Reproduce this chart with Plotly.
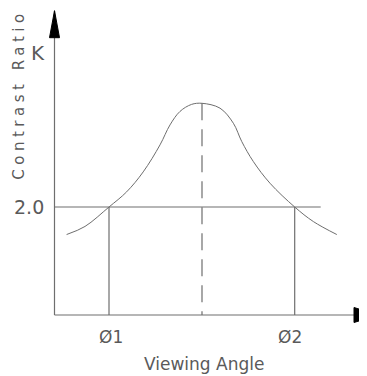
"""Contrast ratio vs viewing angle sketch (CAD-style line drawing)."""

import plotly.graph_objects as go

# --- data -----------------------------------------------------------------
# viewing angle (deg, 0 = normal) and the contrast ratio
angle = [-67.7, -58.5, -46.5, -37.7, -29.4, -21.0, -16.0, -11.0, -5.2, 0.0,
         9.0, 15.7, 19.9, 25.7, 34.0, 46.35, 55.7, 67.4]
contrast = [1.49, 1.64, 2.00, 2.28, 2.65, 3.15, 3.52, 3.77, 3.90, 3.92,
            3.83, 3.55, 3.21, 2.84, 2.44, 2.00, 1.73, 1.49]

threshold = 2.0            # K = 2.0 line
phi1, phi2 = -46.5, 46.35  # angles where the curve crosses K
peak_angle, peak_ratio = 0.0, 3.92

axis_x0 = -73.75         # where the vertical axis sits
axis_x_tip = 88.0        # arrow tip of the horizontal axis
axis_y_tip = 5.635       # arrow tip of the vertical axis
threshold_end = 59.35    # right end of the K line

# --- style ----------------------------------------------------------------
# the page keeps its 8px body margin, so the figure only gets 351 px across
W, H = 351, 368
X_RANGE = [-97.0, 78.5]
Y_RANGE = [-1.1296, 5.685]
PX_PER_X = W / (X_RANGE[1] - X_RANGE[0])
PX_PER_Y = H / (Y_RANGE[1] - Y_RANGE[0])

LINE = "#6e6e6e"
INK = "#5a5a5a"
FONT = "DejaVu Sans"

fig = go.Figure()


def seg(xs, ys, dash="solid"):
    fig.add_scatter(x=xs, y=ys, mode="lines", line=dict(color=LINE, width=1.2, dash=dash),
                    hoverinfo="skip", showlegend=False)


# axes
seg([axis_x0, axis_x0], [0, axis_y_tip])
seg([axis_x0, axis_x_tip], [0, 0])

# arrow heads, sized in pixels and turned into data units
up_len, up_half = 27 / PX_PER_Y, 5 / PX_PER_X
fig.add_scatter(
    x=[axis_x0, axis_x0 - up_half, axis_x0 + up_half, axis_x0],
    y=[axis_y_tip, axis_y_tip - up_len, axis_y_tip - up_len, axis_y_tip],
    mode="lines", fill="toself", fillcolor="black", line=dict(color="black", width=1),
    hoverinfo="skip", showlegend=False,
)
rt_len, rt_half = 24 / PX_PER_X, 7.5 / PX_PER_Y
fig.add_scatter(
    x=[axis_x_tip, axis_x_tip - rt_len, axis_x_tip - rt_len, axis_x_tip],
    y=[0, rt_half, -rt_half, 0],
    mode="lines", fill="toself", fillcolor="black", line=dict(color="black", width=1),
    hoverinfo="skip", showlegend=False,
)

# K line and the two drop lines
seg([axis_x0, threshold_end], [threshold, threshold])
seg([phi1, phi1], [0, threshold])
seg([phi2, phi2], [0, threshold])
seg([peak_angle, peak_angle], [peak_ratio, 0], dash="17px,9px")

# the curve
fig.add_scatter(x=angle, y=contrast, mode="lines",
                line=dict(color=LINE, width=1, shape="spline", smoothing=1),
                hoverinfo="skip", showlegend=False)


def label(text, x, y, size, angle_deg=0):
    fig.add_annotation(x=x, y=y, xref="x", yref="y", text=text, showarrow=False,
                       textangle=angle_deg, xanchor="center", yanchor="middle",
                       font=dict(family=FONT, size=size, color=INK))


label('<span style="letter-spacing:4.5px">Contrast Ratio</span>', -91.5, 4.08, 15, -90)
label("K", -82.25, 4.85, 20)
label("2.0", -86.5, 2.0, 19)
label("Ø1", -45.5, -0.407, 17)
label("Ø2", 44.0, -0.407, 17)
label("Viewing Angle", 1.0, -0.90, 17)

fig.update_layout(
    width=W, height=H,
    margin=dict(l=0, r=0, t=0, b=0),
    paper_bgcolor="white", plot_bgcolor="white",
    xaxis=dict(range=X_RANGE, visible=False, fixedrange=True),
    yaxis=dict(range=Y_RANGE, visible=False, fixedrange=True),
)

fig.write_html("out.html")
